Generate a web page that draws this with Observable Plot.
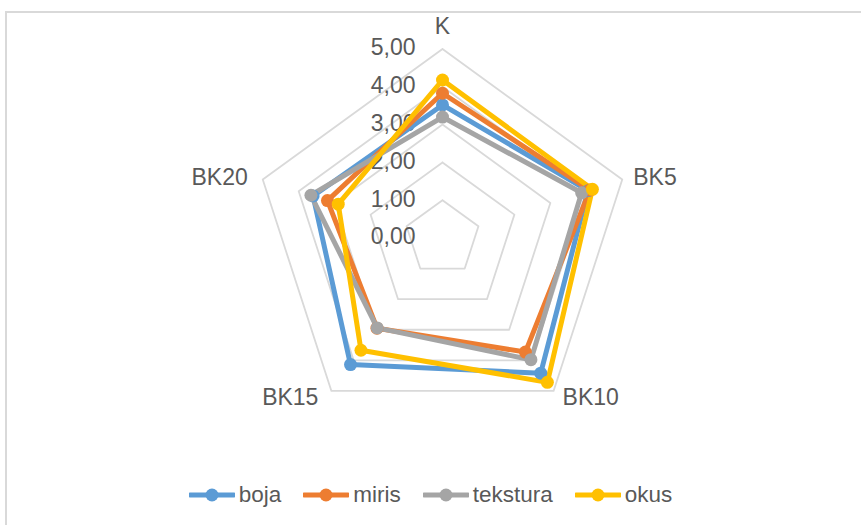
<!DOCTYPE html>
<html>
<head>
<meta charset="utf-8">
<script src="https://cdn.jsdelivr.net/npm/d3@7"></script>
<script src="https://cdn.jsdelivr.net/npm/@observablehq/plot@0.6"></script>
<style>
  html, body { margin: 0; padding: 0; background: #fff; overflow: hidden; }
  #wrap { position: relative; width: 861px; height: 525px; overflow: hidden; font-family: "Liberation Sans", Arial, sans-serif; }
  #frame { position: absolute; left: 5px; top: 11px; width: 900px; height: 600px; border: 2px solid #d9d9d9; box-sizing: border-box; }
  #chart { position: absolute; left: 0; top: 0; }
  #legend { position: absolute; left: 0; top: 482px; width: 861px; height: 26px; display: flex; justify-content: center; align-items: center; padding-left: 0px; box-sizing: border-box; }
  .item { display: flex; align-items: center; margin: 0 11px; font-size: 22.5px; color: #595959; }
  .item svg { margin-right: 4px; }
</style>
</head>
<body>
<div id="wrap">
  <div id="frame"></div>
  <div id="chart"></div>
  <div id="legend"></div>
</div>
<script>
// ---- data ----
const categories = ["K", "BK5", "BK10", "BK15", "BK20"];
const seriesNames = ["boja", "miris", "tekstura", "okus"];
const boja     = [3.52, 4.05, 4.42, 4.14, 3.60];
const miris    = [3.83, 4.10, 3.73, 2.95, 3.20];
const tekstura = [3.20, 3.87, 3.98, 2.94, 3.66];
const okus     = [4.18, 4.17, 4.72, 3.67, 2.90];
const tickValues = [0, 1, 2, 3, 4, 5];
const tickLabels = ["0,00", "1,00", "2,00", "3,00", "4,00", "5,00"];
const colors = ["#5B9BD5", "#ED7D31", "#A5A5A5", "#FFC000"];

// ---- geometry helpers ----
const W = 861, H = 470;
const cx = 442, cy = 237.5, U = 37.8;
const n = categories.length;
const ang = i => (2 * Math.PI * i) / n;
const px = (v, i) => v * Math.sin(ang(i));
const py = (v, i) => -v * Math.cos(ang(i));

// rings (grid)
const ringRows = [];
for (const t of tickValues.filter(t => t > 0)) {
  for (let i = 0; i <= n; i++) ringRows.push({ring: t, x: px(t, i % n), y: py(t, i % n)});
}

// series rows
const allSeries = [boja, miris, tekstura, okus];
const lineRows = [];
const dotRows = [];
allSeries.forEach((vals, s) => {
  for (let i = 0; i <= n; i++) {
    const k = i % n;
    const r = {series: seriesNames[s], cat: categories[k], x: px(vals[k], k), y: py(vals[k], k)};
    lineRows.push(r);
    if (i < n) dotRows.push(r);
  }
});

// tick labels
const tickRows = tickValues.map((t, i) => ({x: 0, y: -t, label: tickLabels[i]}));

// category labels
const catStyle = {
  "K":    {anchor: "middle", dx: 0,   dy: -22},
  "BK5":  {anchor: "start",  dx: 11,  dy: -2},
  "BK10": {anchor: "start",  dx: 9,   dy: 7},
  "BK15": {anchor: "end",    dx: -13, dy: 7},
  "BK20": {anchor: "end",    dx: -15, dy: -2}
};
const catMarks = categories.map((c, i) => Plot.text([{x: px(5, i), y: py(5, i), label: c}], {
  x: "x", y: "y", text: "label",
  textAnchor: catStyle[c].anchor, dx: catStyle[c].dx, dy: catStyle[c].dy,
  fontSize: 23, fill: "#595959"
}));

const chart = Plot.plot({
  width: W, height: H,
  margin: 0,
  style: {fontFamily: "'Liberation Sans', Arial, sans-serif", background: "transparent", overflow: "visible"},
  x: {domain: [-cx / U, (W - cx) / U], range: [0, W], axis: null},
  y: {domain: [-cy / U, (H - cy) / U], range: [0, H], axis: null},
  color: {domain: seriesNames, range: colors},
  marks: [
    Plot.line(ringRows, {x: "x", y: "y", z: "ring", stroke: "#d9d9d9", strokeWidth: 1.8, curve: "linear"}),
    Plot.text(tickRows, {x: "x", y: "y", text: "label", textAnchor: "end", dx: -27, dy: -1, fontSize: 23, fill: "#595959"}),
    ...catMarks,
    Plot.line(lineRows, {x: "x", y: "y", z: "series", stroke: "series", strokeWidth: 5, strokeLinejoin: "round", curve: "linear"}),
    Plot.dot(dotRows, {x: "x", y: "y", fill: "series", r: 6.5, stroke: "none"})
  ]
});
document.getElementById("chart").appendChild(chart);

// ---- legend ----
const legend = document.getElementById("legend");
seriesNames.forEach((name, i) => {
  const item = document.createElement("div");
  item.className = "item";
  item.innerHTML = `<svg width="46" height="14"><line x1="1" y1="7" x2="45" y2="7" stroke="${colors[i]}" stroke-width="5" stroke-linecap="round"/><circle cx="23" cy="7" r="6.5" fill="${colors[i]}"/></svg><span>${name}</span>`;
  legend.appendChild(item);
});
</script>
</body>
</html>
